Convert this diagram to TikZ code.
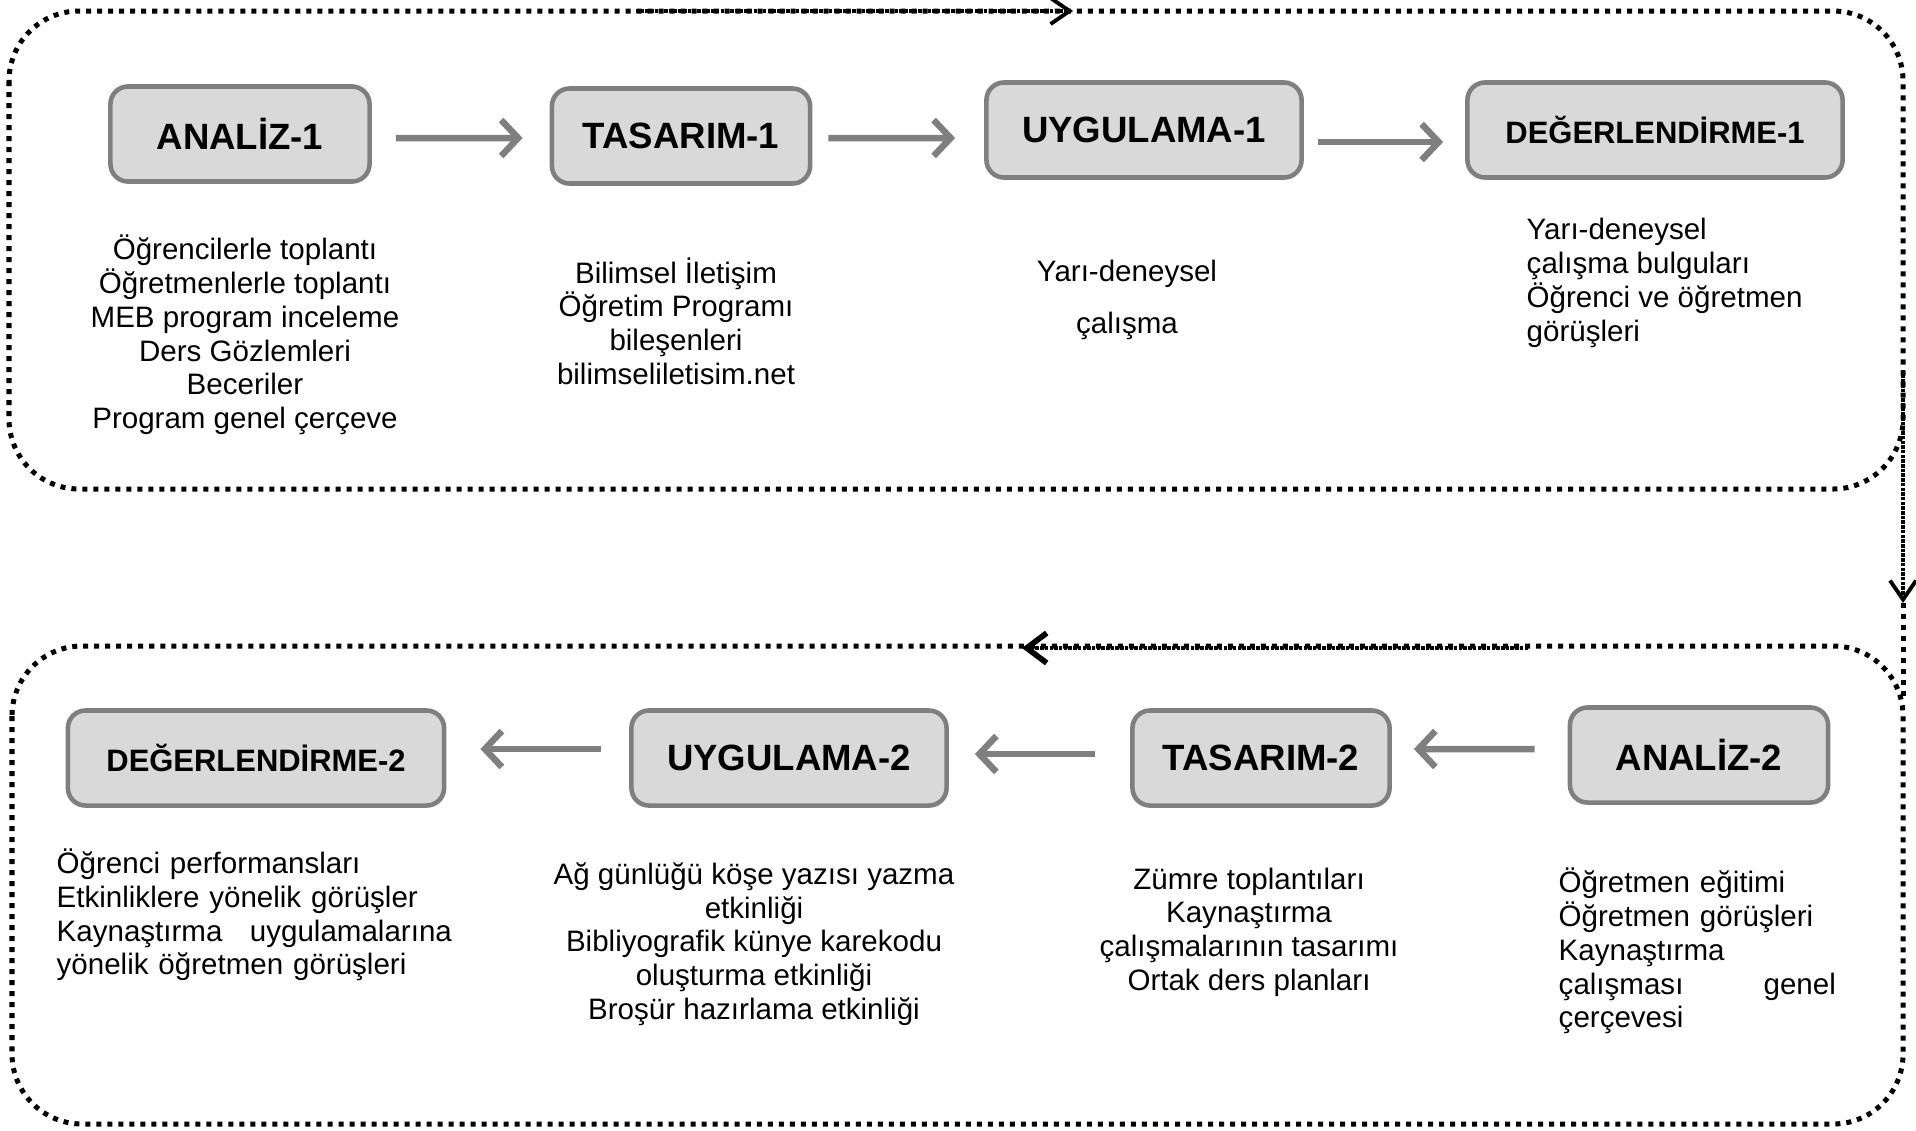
\documentclass[tikz,border=0pt]{standalone}
\usepackage{fontspec}
\setmainfont{Liberation Sans}
\usetikzlibrary{arrows.meta}
\definecolor{boxfill}{HTML}{D9D9D9}
\definecolor{boxline}{HTML}{7F7F7F}

\begin{document}
\begin{tikzpicture}[x=0.01cm,y=-0.01cm,
	phase/.style={draw=boxline,fill=boxfill,line width=1.3pt,rounded corners=5pt,minimum height=0.95cm,font=\fontsize{10.4pt}{12pt}\selectfont\bfseries},
	phaselong/.style={phase,font=\fontsize{8.8pt}{10pt}\selectfont\bfseries},
	notes/.style={font=\fontsize{8.4pt}{9.6pt}\selectfont,inner sep=0pt},
	flow/.style={draw=boxline,line width=0.065cm,-{Straight Barb[length=0.17cm,width=0.36cm]}},
	phaseframe/.style={line width=0.05cm,dash pattern=on 0.05cm off 0.06cm,rounded corners=0.7cm},
	cycleline/.style={line width=0.04cm,dash pattern=on 0.035cm off 0.012cm,-{Straight Barb[length=0.19cm,width=0.26cm,line width=1.1pt]}}]
		\useasboundingbox (0,0) rectangle (1916,1130);
		\draw[phaseframe] (9,11) rectangle (1903,489);
		\draw[phaseframe] (12,646) rectangle (1903,1124);

		\node[phase,minimum width=2.59cm] (an1) at (240,134) {ANALİZ-1};
		\node[phase,minimum width=2.58cm] (ta1) at (681,136) {TASARIM-1};
		\node[phase,minimum width=3.15cm] (uy1) at (1144,130) {UYGULAMA-1};
		\node[phaselong,minimum width=3.75cm] (de1) at (1655,130) {DEĞERLENDİRME-1};

		\node[phaselong,minimum width=3.76cm] (de2) at (256,758) {DEĞERLENDİRME-2};
		\node[phase,minimum width=3.15cm] (uy2) at (789,758) {UYGULAMA-2};
		\node[phase,minimum width=2.57cm] (ta2) at (1261,758) {TASARIM-2};
		\node[phase,minimum width=2.58cm] (an2) at (1699,755) {ANALİZ-2};

		\draw[flow,shorten <=0.24cm,shorten >=0.27cm] ([yshift=-0.04cm]an1.east) -- ([yshift=-0.02cm]ta1.west);
		\draw[flow,shorten <=0.16cm,shorten >=0.29cm] ([yshift=-0.02cm]ta1.east) -- ([yshift=-0.08cm]uy1.west);
		\draw[flow,shorten <=0.14cm,shorten >=0.22cm] ([yshift=-0.12cm]uy1.east) -- ([yshift=-0.12cm]de1.west);
		\draw[flow,shorten <=0.33cm,shorten >=0.22cm] ([yshift=0.06cm]an2.west) -- ([yshift=0.09cm]ta2.east);
		\draw[flow,shorten <=0.35cm,shorten >=0.26cm] ([yshift=0.04cm]ta2.west) -- ([yshift=0.04cm]uy2.east);
		\draw[flow,shorten <=0.28cm,shorten >=0.34cm] ([yshift=0.09cm]uy2.west) -- ([yshift=0.09cm]de2.east);

		\node[notes,align=center] (an1notes) at (245,335) {Öğrencilerle toplantı\\Öğretmenlerle toplantı\\MEB program inceleme\\Ders Gözlemleri\\Beceriler\\Program genel çerçeve};
		\node[notes,align=center] (ta1notes) at (676,321) {Bilimsel İletişim\\Öğretim Programı\\bileşenleri\\bilimseliletisim.net};
		\node[notes,align=center] (uy1notes) at (1127,300) {Yarı-deneysel\\[5pt]çalışma};
		\node[notes,align=left,anchor=west] (de1notes) at (1526,283) {Yarı-deneysel\\çalışma bulguları\\Öğrenci ve öğretmen\\görüşleri};

		\node[notes,text width=3.95cm,align=left,anchor=west] (de2notes) at (56,915) {Öğrenci performansları\\Etkinliklere yönelik görüşler\\Kaynaştırma\hfill uygulamalarına\\yönelik öğretmen görüşleri};
		\node[notes,align=center] (uy2notes) at (754,944) {Ağ günlüğü köşe yazısı yazma\\etkinliği\\Bibliyografik künye karekodu\\oluşturma etkinliği\\Broşür hazırlama etkinliği};
		\node[notes,align=center] (ta2notes) at (1249,932) {Zümre toplantıları\\Kaynaştırma\\çalışmalarının tasarımı\\Ortak ders planları};
		\node[notes,text width=2.77cm,align=left,anchor=west] (an2notes) at (1558,951) {Öğretmen eğitimi\\Öğretmen görüşleri\\Kaynaştırma\\çalışması\hfill genel\\çerçevesi};

		\coordinate (topfrom) at (636,11);
		\coordinate (topto) at (1073,11);
		\coordinate (downfrom) at (1903,370);
		\coordinate (downto) at (1903,603);
		\coordinate (lowedge) at (1903,700);
		\coordinate (backfrom) at (1528,648);
		\coordinate (backto) at (1022,648);
		\draw[cycleline] (topfrom) -- (topto);
		\draw[cycleline] (downfrom) -- (downto);
		\draw[phaseframe] (downto) -- (lowedge);
		\draw[cycleline,-{Straight Barb[length=0.2cm,width=0.3cm,line width=1.6pt]}] (backfrom) -- (backto);
	\end{tikzpicture}
\end{document}
